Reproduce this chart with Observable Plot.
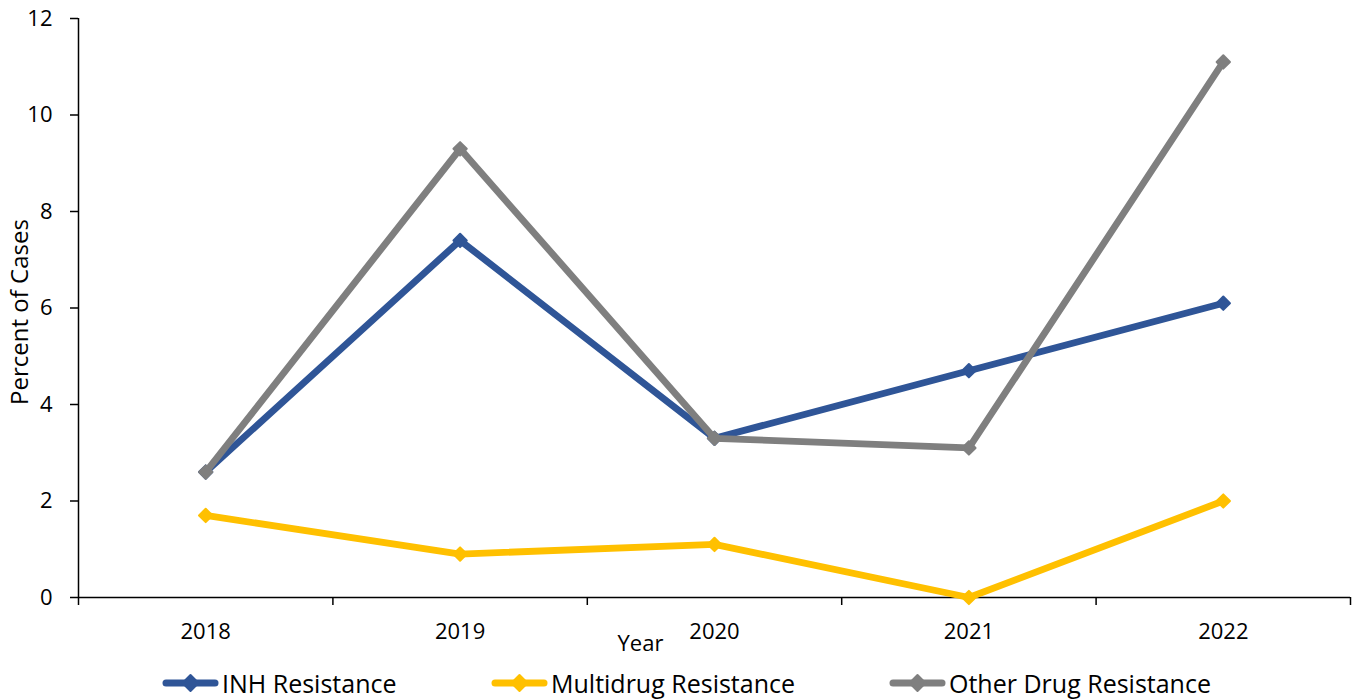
<!DOCTYPE html>
<html><head><meta charset="utf-8">
<script src="https://cdn.jsdelivr.net/npm/d3@7"></script>
<script src="https://cdn.jsdelivr.net/npm/@observablehq/plot@0.6"></script>
<style>
body{margin:0;background:#fff;font-family:"Open Sans",sans-serif;}
#chart svg{display:block;}
#legend{position:relative;height:35px;width:1359px;font-size:25px;color:#000;}
.item{position:absolute;top:0;height:35px;display:flex;align-items:center;white-space:nowrap;}
.item svg{margin-right:3px;}
</style></head><body>
<div id="chart"></div>
<div id="legend"></div>
<script>
const years = [2018, 2019, 2020, 2021, 2022];
const seriesNames = ["INH Resistance", "Multidrug Resistance", "Other Drug Resistance"];
const inhValues = [2.6, 7.4, 3.3, 4.7, 6.1];
const multidrugValues = [1.7, 0.9, 1.1, 0.0, 2.0];
const otherDrugValues = [2.6, 9.3, 3.3, 3.1, 11.1];
const seriesColors = ["#2F5597", "#FFC000", "#7F7F7F"];
const yTicks = [0, 2, 4, 6, 8, 10, 12];
const yLabel = "Percent of Cases";
const xLabel = "Year";

const allValues = [inhValues, multidrugValues, otherDrugValues];
const rows = [];
seriesNames.forEach((s, i) => years.forEach((yr, j) => rows.push({series: s, year: yr, value: allValues[i][j]})));
const boundaries = [years[0] - 0.5, ...years.map(y => y + 0.5)];

const seriesMarks = [];
seriesNames.forEach(s => {
  const d = rows.filter(r => r.series === s);
  seriesMarks.push(Plot.line(d, {x: "year", y: "value", stroke: "series", strokeWidth: 6.8, strokeLinejoin: "round", strokeLinecap: "round"}));
  seriesMarks.push(Plot.dot(d, {x: "year", y: "value", fill: "series", stroke: "series", symbol: "diamond2", r: 6, strokeWidth: 2, strokeLinejoin: "round"}));
});

const chart = Plot.plot({
  width: 1359,
  height: 665,
  marginTop: 18,
  marginBottom: 68,
  marginLeft: 78,
  marginRight: 9,
  style: {fontFamily: '"Open Sans", sans-serif', fontSize: "22px", color: "#000", background: "#fff"},
  x: {type: "linear", domain: [boundaries[0], boundaries[boundaries.length - 1]], axis: null},
  y: {domain: [0, 12], axis: null},
  color: {domain: seriesNames, range: seriesColors},
  marks: [
    Plot.axisY({ticks: yTicks, tickSize: 8, tickPadding: 18, tickFormat: d => String(d), label: null, stroke: "#000", strokeWidth: 1.5, fontSize: 22}),
    Plot.axisX({ticks: boundaries, tickSize: 8, tickFormat: () => "", label: null, stroke: "#000", strokeWidth: 1.5}),
    Plot.axisX({ticks: years, tickSize: 0, tickPadding: 26, tickFormat: d => String(d), label: null, fontSize: 22}),
    Plot.ruleY([0], {stroke: "#000", strokeWidth: 1.5}),
    Plot.ruleX([boundaries[0]], {stroke: "#000", strokeWidth: 1.5}),
    Plot.text([yLabel], {frameAnchor: "left", textAnchor: "middle", rotate: -90, dx: -58, dy: 4, fontSize: 24, fill: "#000"}),
    Plot.text([xLabel], {frameAnchor: "bottom", dx: -74, dy: 53, fontSize: 22, fill: "#000"}),
    ...seriesMarks
  ]
});
document.getElementById("chart").appendChild(chart);

const legendLefts = [162, 491, 889];
const legend = document.getElementById("legend");
seriesNames.forEach((s, i) => {
  const item = document.createElement("div");
  item.className = "item";
  item.style.left = legendLefts[i] + "px";
  const c = seriesColors[i];
  item.innerHTML = `<svg width="57" height="20" viewBox="0 0 57 20"><line x1="4" y1="10" x2="53" y2="10" stroke="${c}" stroke-width="7" stroke-linecap="round"/><path d="M28.5 2 L36.5 10 L28.5 18 L20.5 10 Z" fill="${c}" stroke="${c}" stroke-width="2" stroke-linejoin="round"/></svg><span>${s}</span>`;
  legend.appendChild(item);
});
</script>
</body></html>
